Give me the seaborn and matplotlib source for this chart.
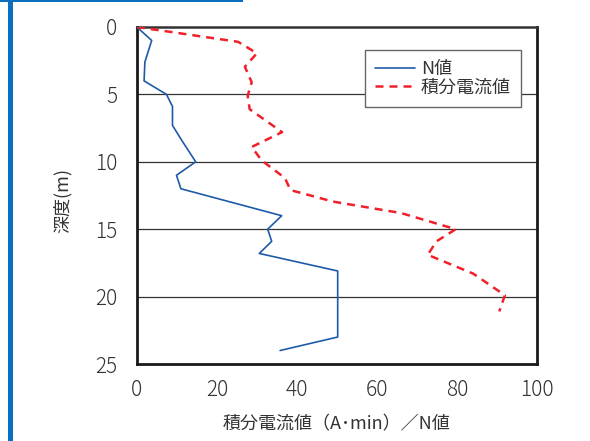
import numpy as np
import pandas as pd
import matplotlib
matplotlib.use("Agg")
import matplotlib.pyplot as plt
from matplotlib.patches import Rectangle
import seaborn as sns

# values
n_value = [0, 3.7, 2.0, 1.8, 7.4, 8.9, 8.9, 11.2, 14.7, 9.9, 11.0, 36.2,
           32.7, 33.7, 30.6, 50.2, 50.2, 35.8]
n_depth = [0, 1.0, 2.6, 4.0, 5.0, 5.9, 7.3, 8.4, 10.0, 11.0, 12.0, 14.0,
           15.0, 15.9, 16.8, 18.1, 23.0, 24.0]

current_value = [0, 25.3, 30.0, 27.0, 28.7, 27.7, 28.2, 36.3, 28.7, 31.2,
                 37.0, 38.4, 49.0, 66.0, 79.7, 74.9, 72.7, 84.1, 92.0, 90.6]
current_depth = [0, 1.1, 1.95, 2.95, 4.1, 5.1, 6.1, 7.8, 8.9, 9.9,
                 11.2, 12.1, 12.95, 13.8, 15.0, 15.9, 16.9, 18.3, 19.9, 21.1]

x_ticks = [0, 20, 40, 60, 80, 100]
y_ticks = [0, 5, 10, 15, 20, 25]
grid_depths = [5, 10, 15, 20]

sns.set_style("white")
plt.rcParams['font.family'] = ['Noto Sans CJK JP', 'DejaVu Sans']

df_n = pd.DataFrame({"x": n_value, "depth": n_depth})
df_c = pd.DataFrame({"x": current_value, "depth": current_depth})

fig = plt.figure(figsize=(5.9, 4.41), dpi=100)
ax = fig.add_axes([0.232, 0.1746, 0.678, 0.7642])

for d in grid_depths:
    ax.axhline(d, color="#333333", lw=0.9, zorder=1)

sns.lineplot(data=df_n, x="x", y="depth", sort=False, estimator=None,
             color="#1f5aa8", lw=1.2, ax=ax, label="N値", zorder=3)
sns.lineplot(data=df_c, x="x", y="depth", sort=False, estimator=None,
             color="#f0202a", lw=1.8, ax=ax, label="積分電流値", zorder=3)
ax.lines[-1].set_dashes([3.2, 2.4])

ax.set_xlim(0, 100)
ax.set_ylim(25, 0)
ax.set_xticks(x_ticks)
ax.set_yticks(y_ticks)
ax.tick_params(axis="x", direction="in", length=6.5, width=1.6, color="#222222",
               labelsize=15, labelcolor="#333333", pad=11)
ax.tick_params(axis="y", length=0, labelsize=15, labelcolor="#333333", pad=14)
for lab in ax.get_xticklabels() + ax.get_yticklabels():
    lab.set_fontweight("light")

for side in ["left", "bottom", "right"]:
    ax.spines[side].set_color("#1a1a1a")
    ax.spines[side].set_linewidth(2)
ax.spines["top"].set_color("#333333")
ax.spines["top"].set_linewidth(1.8)

ax.set_xlabel("積分電流値（A･min）／N値", fontsize=13, color="#333333", labelpad=10)
ax.set_ylabel("深度(m)", fontsize=13, color="#333333")
ax.yaxis.set_label_coords(-0.163, 0.485)

leg = ax.legend(loc="upper right", bbox_to_anchor=(0.96, 0.932), fontsize=13,
                frameon=True, fancybox=False, framealpha=1, edgecolor="#666666",
                handlelength=2.2, handletextpad=0.35, borderpad=0.55,
                labelspacing=0.05, borderaxespad=0)
leg.get_frame().set_linewidth(1.0)
for t in leg.get_texts():
    t.set_color("#333333")

# page decoration: blue frame lines
fig.add_artist(Rectangle((8 / 590, 0), 5 / 590, 1, transform=fig.transFigure,
                         color="#0a6fbf", lw=0))
fig.add_artist(Rectangle((0, 1 - 2 / 441), 243 / 590, 2 / 441,
                         transform=fig.transFigure, color="#0a6fbf", lw=0))

fig.savefig("out.png", dpi=100)
